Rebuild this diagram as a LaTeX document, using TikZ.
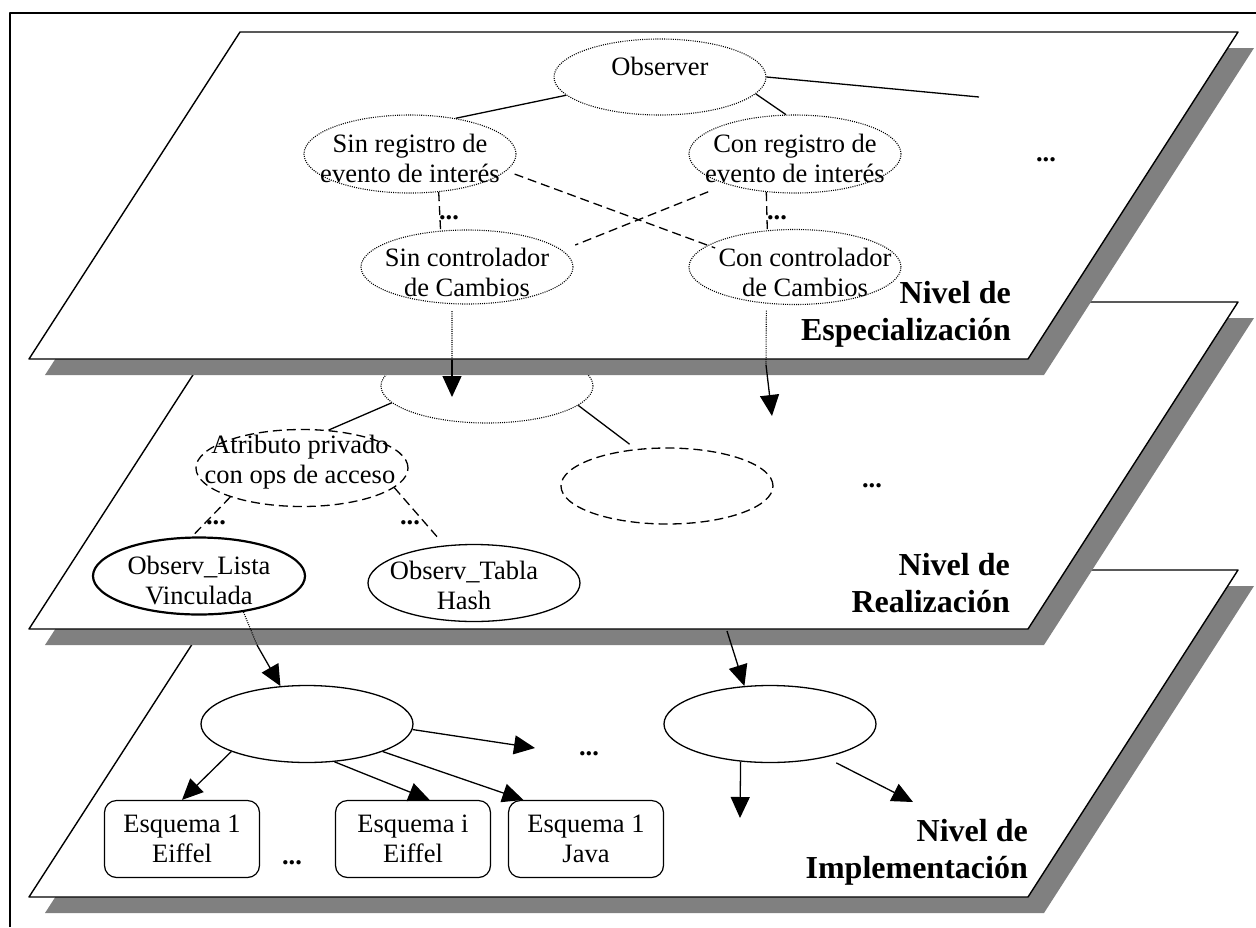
\documentclass[tikz,border=0pt]{standalone}
\usepackage{fontspec}
\setmainfont{Liberation Serif}
\usetikzlibrary{shapes.geometric,arrows.meta}

% one level: grey shadow first, then the white sheet
\newcommand{\plano}[1]{%
  \fill[sombra] (256,#1+16) -- (1254,#1+16) -- (1044,#1+343) -- (45,#1+343) -- cycle;
  \filldraw[plano] (240,#1) -- (1238,#1) -- (1028,#1+327) -- (29,#1+327) -- cycle;}

\begin{document}
\begin{tikzpicture}
  [x=1pt,y=-1pt,line join=round,
   every node/.style={font=\fontsize{26.5}{30}\selectfont,align=center,inner sep=0pt},
   plano/.style={fill=white,draw=black,line width=1.4pt},
   sombra/.style={fill=black!50},
   elip/.style={ellipse,minimum width=212pt,minimum height=77pt},
   esq/.style={rectangle,rounded corners=12pt,draw,line width=1.2pt,
     minimum width=155pt,minimum height=77pt},
   puntos/.style={anchor=base,font=\bfseries\fontsize{26.5}{30}\selectfont},
   punteado/.style={line width=1.1pt,dash pattern=on 1pt off 1.2pt},
   guiones/.style={line width=1.3pt,dash pattern=on 9pt off 5pt},
   linea/.style={line width=1.3pt},
   arr/.style={line width=1.3pt,-{Triangle[length=21pt,width=19pt]}},
   nivel/.style={font=\bfseries\fontsize{32}{37}\selectfont,align=right,anchor=east}]
\useasboundingbox (0,0) rectangle (1256,927);
\draw[line width=1.5pt] (10,927) -- (10,13) -- (1256,13);

% Nivel de Implementacion
\plano{570}
\node[elip,draw,line width=1.3pt] (i1) at (307,724) {};
\node[elip,draw,line width=1.3pt] (i2) at (770,724) {};
\node[esq] (esq1) at (182,839) {Esquema 1\\Eiffel};
\node[esq] (esqi) at (413,839) {Esquema i\\Eiffel};
\node[esq] (esqj) at (586,839) {Esquema 1\\Java};
\node[puntos] (d7) at (292,864) {...};
\node[puntos] (d8) at (589,755) {...};
\coordinate (c1) at (535,748);
\coordinate (c2) at (740,818);
\coordinate (c3) at (913,802);
\draw[arr] (i1.200) -- (esq1.north);
\draw[arr] (i1.-54) -- (esqi.67);
\draw[arr] (i1.-20) -- (esqj.148);
\draw[arr] (i1.-3) -- (c1);
\draw[arr] (i2.232) -- (c2);
\draw[arr,shorten <=12pt] (i2.-31) -- (c3);
\node[nivel] (n3) at (1028,852) {Nivel de\\Implementación};

% Nivel de Realizacion
\plano{302}
\node[elip,draw,punteado,minimum height=74pt] (r0) at (487,386) {};
\node[elip,draw,guiones] (attr) at (302,468) {};
\node (attr-t) at (300,462) {Atributo privado\\con ops de acceso};
\node[elip,draw,guiones,minimum height=76pt] (r2) at (667,486) {};
\node[elip,draw,line width=2.2pt] (lista) at (199,576) {};
\node (lista-t) at (199,580) {Observ\_Lista\\Vinculada};
\node[elip,draw,line width=1.3pt] (tabla) at (474,583) {};
\node (tabla-t) at (464,585) {Observ\_Tabla\\Hash};
\node[puntos] (d5) at (216,524) {...};
\node[puntos] (d6) at (410,524) {...};
\node[puntos] (d4) at (872,487) {...};
\draw[linea] (r0.190) -- (attr.55);
\draw[linea,shorten >=8pt] (r0.-12) -- (r2.130);
\draw[guiones] (attr.202) -- (lista.100);
\draw[guiones,shorten >=8pt] (attr.-12) -- (tabla.128);
\node[nivel] (n2) at (1010,583) {Nivel de\\Realización};

% Nivel de Especializacion
\plano{32}
\node[elip,draw,punteado,minimum height=76pt] (obs) at (660,77) {};
\node (obs-t) at (660,66) {Observer};
\node[elip,draw,punteado,minimum height=78pt] (sreg) at (410,154) {};
\node (sreg-t) at (410,158) {Sin registro de\\evento de interés};
\node[elip,draw,punteado,minimum height=78pt] (creg) at (795,154) {};
\node (creg-t) at (795,158) {Con registro de\\evento de interés};
\node[elip,draw,punteado,minimum height=74pt] (sctl) at (467,267) {};
\node (sctl-t) at (467,272) {Sin controlador\\de Cambios};
\node[elip,draw,punteado,minimum height=75pt] (cctl) at (795,267) {};
\node (cctl-t) at (805,272) {Con controlador\\de Cambios};
\node[puntos] (d1) at (449,219) {...};
\node[puntos] (d2) at (777,219) {...};
\node[puntos] (d3) at (1046,161) {...};
\coordinate (c0) at (979,97);
\draw[linea] (obs.191) -- (sreg.38);
\draw[linea] (obs.350) -- (creg.103);
\draw[linea] (obs.east) -- (c0);
\draw[guiones] (sreg.-53) -- (sctl.126);
\draw[guiones] (creg.233) -- (cctl.127);
\draw[guiones,shorten <=9pt,shorten >=-8pt] (sreg.-10) -- (cctl.166);
\draw[guiones,shorten <=20pt,shorten >=14pt] (creg.204) -- (sctl.10);
\node[nivel] (n1) at (1011,314) {Nivel de\\Especialización};

% flechas entre niveles
\coordinate (c4) at (452,360);
\coordinate (c5) at (452,397);
\draw[punteado,shorten <=7pt] (sctl.248) -- (c4);
\draw[arr] (c4) -- (c5);
\coordinate (c6) at (766,365);
\coordinate (c7) at (772,416);
\draw[punteado,shorten <=7pt] (cctl.232) -- (c6);
\draw[arr] (c6) -- (c7);
\coordinate (c8) at (257,645);
\draw[punteado] (lista.-39) -- (c8);
\draw[arr] (c8) -- (i1.125);
\coordinate (c9) at (727,631);
\draw[arr] (c9) -- (i2.124);
\end{tikzpicture}
\end{document}
